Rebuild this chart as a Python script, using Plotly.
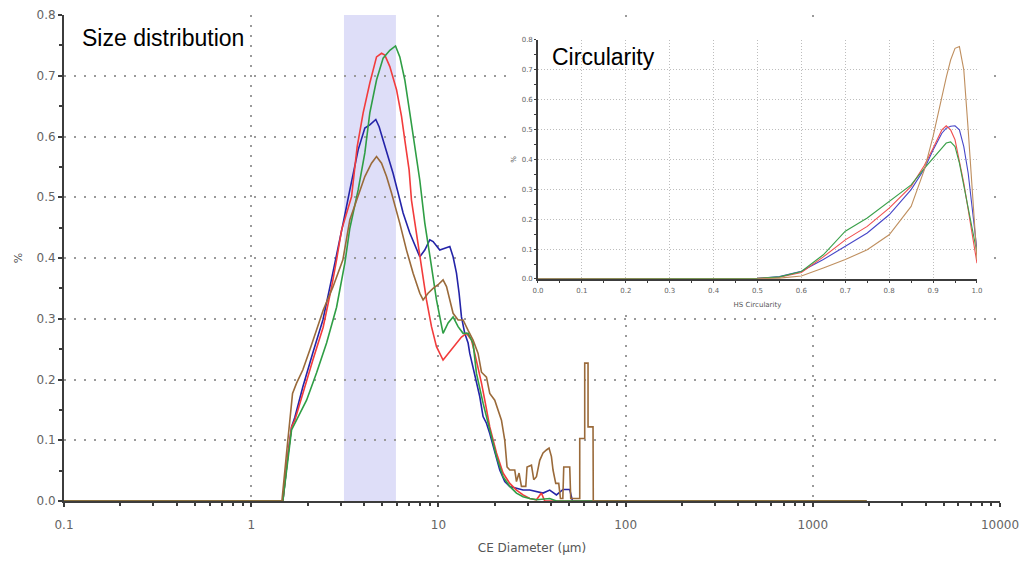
import plotly.graph_objects as go

# ---------------- Main chart: size distribution ----------------
# CE diameter (µm) and % for each sample
blue_d = [0.1, 1.476, 1.576, 1.643, 1.711, 1.888, 2.135, 2.415, 2.632, 2.858, 3.126, 3.365, 3.727, 4.046,
          4.302, 4.631, 4.824, 5.067, 5.388, 5.730, 6.093, 6.479, 7.035, 7.955, 8.456, 8.997, 9.369,
          10.17, 10.82, 11.51, 11.98, 12.49, 12.90, 13.28, 13.83, 14.41, 14.71, 15.64, 16.63, 17.32,
          18.06, 18.81, 20.00, 21.27, 22.62, 24.06, 26.12, 28.33, 30.76, 33.40, 36.22, 39.33, 42.71,
          46.33, 50.30, 52.0, 1936]
blue_p = [0, 0, 0.079, 0.122, 0.138, 0.188, 0.244, 0.298, 0.352, 0.408, 0.463, 0.512, 0.578, 0.614,
          0.619, 0.628, 0.616, 0.594, 0.567, 0.539, 0.507, 0.474, 0.441, 0.402, 0.413, 0.430, 0.427,
          0.413, 0.416, 0.419, 0.402, 0.375, 0.342, 0.303, 0.276, 0.260, 0.243, 0.210, 0.172, 0.139,
          0.128, 0.111, 0.079, 0.051, 0.032, 0.024, 0.021, 0.018, 0.018, 0.015, 0.013, 0.018, 0.010,
          0.019, 0.019, 0, 0]

red_d = [0.1, 1.476, 1.576, 1.643, 1.711, 1.888, 2.135, 2.423, 2.688, 2.858, 3.039, 3.436, 3.681, 3.963,
         4.302, 4.672, 4.969, 5.174, 5.502, 5.975, 6.353, 6.616, 6.974, 7.183, 7.638, 8.123, 8.635,
         9.186, 9.768, 10.59, 11.51, 12.49, 13.28, 14.13, 15.02, 15.64, 16.29, 16.99, 17.69, 18.42,
         18.81, 20.43, 22.15, 24.06, 26.12, 28.33, 30.76, 33.40, 35.51, 36.99, 1936]
red_p = [0, 0, 0.079, 0.122, 0.133, 0.178, 0.232, 0.286, 0.352, 0.397, 0.446, 0.501, 0.583, 0.639,
         0.688, 0.731, 0.737, 0.734, 0.715, 0.677, 0.633, 0.594, 0.545, 0.495, 0.441, 0.386, 0.331,
         0.287, 0.254, 0.232, 0.246, 0.260, 0.270, 0.276, 0.265, 0.243, 0.221, 0.194, 0.166, 0.139,
         0.122, 0.079, 0.046, 0.029, 0.018, 0.010, 0.004, 0.002, 0.013, 0, 0]

green_d = [0.1, 1.476, 1.643, 1.747, 1.976, 2.235, 2.527, 2.858, 3.165, 3.365, 3.727, 4.046, 4.302,
           4.672, 5.067, 5.502, 5.901, 6.222, 6.616, 7.035, 7.482, 7.955, 8.456, 8.635, 9.186, 9.768,
           10.39, 10.59, 11.27, 11.98, 12.74, 13.55, 14.41, 15.32, 15.97, 17.32, 18.81, 20.43, 22.15,
           24.06, 26.12, 28.33, 30.76, 33.40, 39.33, 42.71, 1936]
green_p = [0, 0, 0.117, 0.133, 0.166, 0.211, 0.260, 0.319, 0.392, 0.449, 0.512, 0.573, 0.639,
           0.693, 0.729, 0.742, 0.749, 0.731, 0.693, 0.639, 0.583, 0.528, 0.458, 0.441, 0.386, 0.331,
           0.287, 0.276, 0.293, 0.303, 0.287, 0.276, 0.276, 0.260, 0.210, 0.161, 0.117, 0.073, 0.040,
           0.024, 0.013, 0.007, 0.004, 0.002, 0.004, 0, 0]

brown_d = [0.1, 1.459, 1.545, 1.609, 1.663, 1.747, 1.888, 2.058, 2.235, 2.423, 2.731, 3.088, 3.365,
           3.654, 4.046, 4.393, 4.672, 4.969, 5.284, 5.618, 5.975, 6.222, 6.754, 7.327, 7.955, 8.285,
           8.806, 9.369, 9.963, 10.59, 11.05, 11.51, 11.98, 12.74, 13.55, 14.41, 15.32, 16.29, 16.99,
           18.06, 18.81, 20.00, 20.83, 21.72, 22.62, 23.27, 24.06, 25.58, 26.12, 26.97, 27.77, 29.29,
           29.76, 31.41, 32.31, 33.40, 34.78, 36.22, 37.76, 39.00, 40.16, 40.96, 42.34, 43.94, 44.87,
           46.2, 46.73, 50.30, 50.92, 56.89, 56.89, 60.48, 60.48, 63.00, 63.00, 66.99, 67.2, 1936]
brown_p = [0, 0, 0.079, 0.133, 0.177, 0.194, 0.216, 0.249, 0.281, 0.314, 0.352, 0.397, 0.463,
           0.495, 0.534, 0.556, 0.567, 0.556, 0.534, 0.507, 0.479, 0.457, 0.413, 0.375, 0.342, 0.331,
           0.342, 0.350, 0.356, 0.364, 0.353, 0.331, 0.309, 0.298, 0.298, 0.281, 0.265, 0.243, 0.212,
           0.204, 0.177, 0.166, 0.150, 0.133, 0.100, 0.056, 0.051, 0.051, 0.032, 0.046, 0.024, 0.024,
           0.056, 0.059, 0.035, 0.040, 0.067, 0.079, 0.084, 0.087, 0.073, 0.051, 0.029, 0.029, 0.004,
           0.004, 0.056, 0.056, 0.004, 0.004, 0.103, 0.103, 0.227, 0.227, 0.122, 0.122, 0, 0]

main_tick_vals = [0.1, 1, 10, 100, 1000, 10000]
main_tick_labels = ["0.1", "1", "10", "100", "1000", "10000"]

# highlighted size window (µm)
BAND_LO_UM = 3.13
BAND_HI_UM = 5.93

# ---------------- Inset: circularity ----------------
circ_x = [0.0, 0.47, 0.50, 0.55, 0.60, 0.65, 0.70, 0.75, 0.80, 0.85, 0.88, 0.90, 0.92, 0.93, 0.94,
          0.95, 0.96, 0.97, 0.98, 0.99, 1.00]
circ_blue = [0, 0, 0.002, 0.008, 0.026, 0.065, 0.109, 0.154, 0.215, 0.299, 0.368, 0.432, 0.488,
             0.505, 0.511, 0.513, 0.499, 0.443, 0.354, 0.221, 0.098]
circ_red = [0, 0, 0.002, 0.006, 0.022, 0.074, 0.131, 0.176, 0.237, 0.310, 0.380, 0.438, 0.499,
            0.513, 0.499, 0.466, 0.399, 0.321, 0.232, 0.143, 0.053]
circ_green = [0, 0, 0.002, 0.007, 0.025, 0.081, 0.160, 0.204, 0.260, 0.315, 0.370, 0.404, 0.438,
              0.455, 0.459, 0.443, 0.388, 0.310, 0.232, 0.165, 0.087]
circ_brown = [0, 0, 0.001, 0.003, 0.010, 0.037, 0.065, 0.098, 0.148, 0.243, 0.365, 0.477, 0.611,
              0.675, 0.733, 0.772, 0.778, 0.700, 0.499, 0.276, 0.065]

MAIN_COLORS = {"blue": "#2424a8", "red": "#f23c3c", "green": "#2f9e45", "brown": "#9a6a3a"}
INSET_COLORS = {"blue": "#4646c8", "red": "#f05050", "green": "#3aa04a", "brown": "#bf8f5f"}

fig = go.Figure()

for name, d, p in [("blue", blue_d, blue_p), ("red", red_d, red_p),
                   ("green", green_d, green_p), ("brown", brown_d, brown_p)]:
    fig.add_trace(go.Scatter(x=d, y=p, mode="lines", xaxis="x", yaxis="y",
                             line=dict(color=MAIN_COLORS[name], width=1.6),
                             showlegend=False, hoverinfo="skip"))

for name, v in [("blue", circ_blue), ("red", circ_red), ("green", circ_green), ("brown", circ_brown)]:
    fig.add_trace(go.Scatter(x=circ_x, y=v, mode="lines", xaxis="x2", yaxis="y2",
                             line=dict(color=INSET_COLORS[name], width=1.1),
                             showlegend=False, hoverinfo="skip"))

AX = "#3c3c3c"
TICKFONT = dict(family="DejaVu Sans", size=12, color="#646464")
minor_vals = [k * 10 ** e for e in range(-1, 4) for k in range(2, 10)]

# inset backing panel in main-axis units (x in µm, y in %)
PANEL_X0_UM, PANEL_X1_UM = 24.2, 8950.0
PANEL_Y0, PANEL_Y1 = 0.311, 0.789

shapes = [
    dict(type="rect", xref="x", yref="y",
         x0=BAND_LO_UM, x1=BAND_HI_UM, y0=0, y1=0.8,
         fillcolor="rgb(222,222,248)", line=dict(width=0), layer="below"),
    dict(type="rect", xref="x", yref="y",
         x0=PANEL_X0_UM, x1=PANEL_X1_UM, y0=PANEL_Y0, y1=PANEL_Y1,
         fillcolor="white", line=dict(width=0), layer="between"),
]

fig.update_layout(
    width=1026, height=567,
    margin=dict(l=64, r=26, t=15, b=66),
    paper_bgcolor="white", plot_bgcolor="white",
    showlegend=False,
    shapes=shapes,
    xaxis=dict(type="log", range=[-1, 4], domain=[0, 1], automargin=False,
               showline=True, linecolor=AX, linewidth=2,
               ticks="outside", ticklen=4, tickcolor=AX, tickwidth=1.5,
               tickmode="array", tickvals=main_tick_vals, ticktext=main_tick_labels,
               tickfont=TICKFONT, ticklabelstandoff=8,
               minor=dict(tickmode="array", tickvals=minor_vals, ticks="outside", ticklen=3,
                          tickcolor=AX, tickwidth=1.5, showgrid=False),
               showgrid=True, gridcolor="#9a9a9a", gridwidth=2, griddash="2px,8px",
               zeroline=False,
               title=dict(text="CE Diameter (µm)", font=dict(family="DejaVu Sans", size=12, color="#555555"),
                          standoff=12)),
    yaxis=dict(range=[0, 0.8], domain=[0, 1], anchor="x", automargin=False,
               showline=True, linecolor=AX, linewidth=2,
               ticks="outside", ticklen=4, tickcolor=AX, tickwidth=1.5,
               dtick=0.1, tick0=0, tickformat=".1f", tickfont=TICKFONT,
               minor=dict(dtick=0.05, ticks="outside", ticklen=3, tickcolor=AX, tickwidth=1.5,
                          showgrid=False),
               showgrid=True, gridcolor="#9a9a9a", gridwidth=2, griddash="2px,8px",
               zeroline=False,
               title=dict(text="%", font=dict(family="DejaVu Sans", size=11, color="#555555"),
                          standoff=12)),
    xaxis2=dict(range=[0, 1], domain=[0.5064, 0.9754], anchor="y2", automargin=False,
                showline=True, linecolor=AX, linewidth=1.5,
                ticks="outside", ticklen=2, tickcolor=AX,
                dtick=0.1, tick0=0, tickformat=".1f", ticklabelstandoff=2,
                tickfont=dict(family="DejaVu Sans", size=7, color="#646464"),
                minor=dict(dtick=0.05, ticks="outside", ticklen=2, tickcolor=AX, showgrid=False),
                showgrid=True, gridcolor="#bdbdbd", gridwidth=1, griddash="1px,2px",
                zeroline=False,
                title=dict(text="HS Circularity", font=dict(family="DejaVu Sans", size=7, color="#555555"),
                           standoff=8)),
    yaxis2=dict(range=[0, 0.8], domain=[0.4568, 0.9486], anchor="x2", automargin=False,
                showline=True, linecolor=AX, linewidth=1.5,
                ticks="outside", ticklen=2, tickcolor=AX,
                dtick=0.1, tick0=0, tickformat=".1f",
                tickfont=dict(family="DejaVu Sans", size=7, color="#646464"),
                minor=dict(dtick=0.05, ticks="outside", ticklen=2, tickcolor=AX, showgrid=False),
                showgrid=True, gridcolor="#bdbdbd", gridwidth=1, griddash="1px,2px",
                zeroline=False,
                title=dict(text="%", font=dict(family="DejaVu Sans", size=7, color="#555555"),
                           standoff=4)),
    annotations=[
        dict(text="Size distribution", xref="paper", yref="paper", x=0.0171, y=0.9527,
             xanchor="left", yanchor="middle", showarrow=False,
             font=dict(family="Liberation Sans", size=23, color="black")),
        dict(text="Circularity", xref="paper", yref="paper", x=0.5192, y=0.9136,
             xanchor="left", yanchor="middle", showarrow=False,
             font=dict(family="Liberation Sans", size=23, color="black")),
    ],
)

fig.write_html("out.html")
